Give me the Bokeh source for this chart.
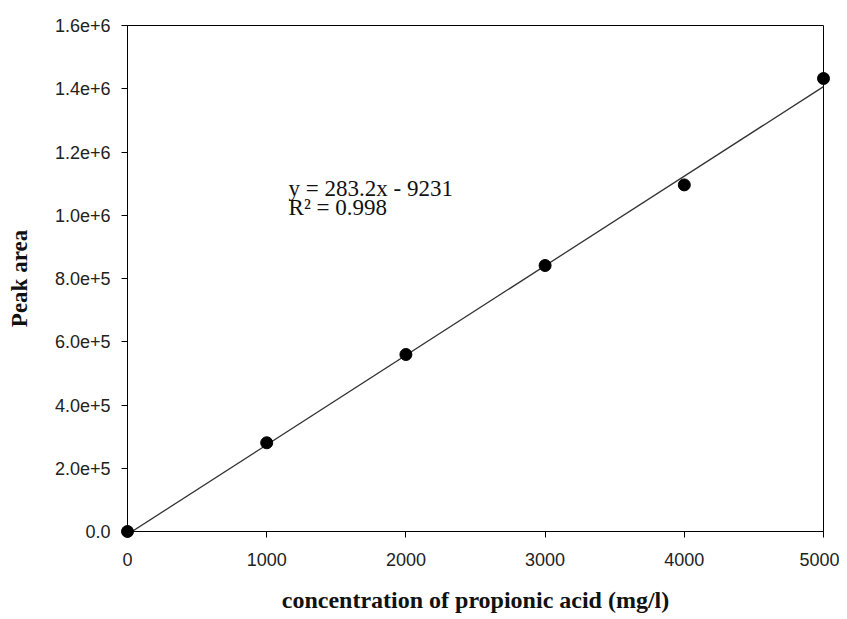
from bokeh.plotting import figure
from bokeh.models import Range1d, FixedTicker, ColumnDataSource
from bokeh.embed import file_html
from bokeh.resources import INLINE
from bokeh.core.properties import value

# data
concentration = [0, 1000, 2000, 3000, 4000, 5000]
peak_area = [0, 280500, 559700, 841100, 1096000, 1432400]

fit_slope = 283.2
fit_intercept = -9231
fit_x = [0, 5000]
eq_lines = ["y = 283.2x - 9231", "R\u00b2 = 0.998"]
eq_x = [1157, 1157]
eq_y = [1084600, 1024500]

x_ticks = [0, 1000, 2000, 3000, 4000, 5000]
y_ticks = [0, 200000, 400000, 600000, 800000, 1000000, 1200000, 1400000, 1600000]
y_tick_labels = ["0.0", "2.0e+5", "4.0e+5", "6.0e+5", "8.0e+5", "1.0e+6", "1.2e+6", "1.4e+6", "1.6e+6"]

p = figure(frame_width=696, frame_height=506, output_backend="svg", toolbar_location=None,
           x_range=Range1d(0, 5000), y_range=Range1d(0, 1.6e6),
           min_border_left=127, min_border_right=16, min_border_top=25, min_border_bottom=80)

p.grid.visible = False
p.outline_line_color = "black"
p.outline_line_width = 1
p.background_fill_color = "white"
p.border_fill_color = "white"

fit_y = [fit_slope * x + fit_intercept for x in fit_x]
p.line(fit_x, fit_y, line_color="#333333", line_width=1.3)

src = ColumnDataSource(dict(x=concentration, y=peak_area))
p.scatter("x", "y", source=src, size=12, fill_color="black", line_color="black", level="overlay")

p.text(x=eq_x, y=eq_y, text=eq_lines,
       text_font=value("Liberation Serif"), text_font_size="23px",
       text_color="#111111", text_baseline="alphabetic", text_align="left")

for ax in (p.xaxis[0], p.yaxis[0]):
    ax.axis_line_color = "black"
    ax.major_tick_line_color = "black"
    ax.minor_tick_line_color = None
    ax.major_tick_in = 0
    ax.major_tick_out = 6
    ax.major_label_text_font = "Liberation Sans"
    ax.major_label_text_font_size = "18px"
    ax.major_label_text_color = "#222222"
    ax.axis_label_text_font = "Liberation Serif"
    ax.axis_label_text_font_style = "bold"
    ax.axis_label_text_color = "#111111"

p.xaxis.axis_label_text_font_size = "24px"
p.yaxis.axis_label_text_font_size = "23px"
p.xaxis.ticker = FixedTicker(ticks=x_ticks)
p.yaxis.ticker = FixedTicker(ticks=y_ticks)
p.yaxis.major_label_overrides = {t: l for t, l in zip(y_ticks, y_tick_labels)}
p.xaxis.axis_label = "concentration of propionic acid (mg/l)"
p.yaxis.axis_label = "Peak area"
p.xaxis.major_label_standoff = 15
p.yaxis.major_label_standoff = 11
p.xaxis.axis_label_standoff = 18
p.yaxis.axis_label_standoff = 20

open("out.html", "w").write(file_html(p, INLINE))
